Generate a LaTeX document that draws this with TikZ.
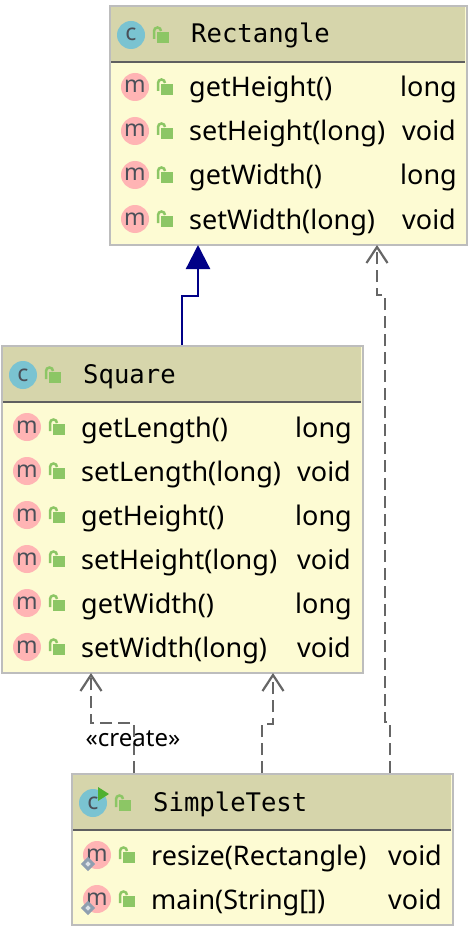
\documentclass[tikz,border=0pt]{standalone}
\usepackage{fontspec}
\setmainfont{Noto Sans}
\newfontfamily\hdrfont{DejaVu Sans Mono}
\usetikzlibrary{arrows.meta}
\definecolor{hdr}{HTML}{D6D5AB}
\definecolor{bodyc}{HTML}{FDFBD3}
\definecolor{edge}{HTML}{BDBDBD}
\definecolor{sepc}{HTML}{5F5F5F}
\definecolor{cic}{HTML}{7AC3D1}
\definecolor{mic}{HTML}{FFB4B4}
\definecolor{icont}{HTML}{4A4F58}
\definecolor{lockc}{HTML}{8CC665}
\definecolor{navyc}{HTML}{000087}
\definecolor{dashc}{HTML}{666666}
\definecolor{runc}{HTML}{4FB030}
\definecolor{diac}{HTML}{8F9FB0}
\tikzset{
  x=1pt,y=-1pt,
  umlbox/.style={draw=edge,line width=2pt,fill=bodyc,inner sep=0,anchor=north west},
  titletext/.style={anchor=base west,inner sep=0,font=\hdrfont\fontsize{25.6}{27}\selectfont},
  membertext/.style={anchor=base west,inner sep=0,font=\fontsize{27}{29}\selectfont},
  iconletter/.style={anchor=base,inner sep=0,text=icont,font=\fontsize{23}{24}\selectfont},
  gen/.style={navyc,line width=2.2pt,-{Triangle[length=24pt,width=24pt,fill=navyc]}},
  dep/.style={dashc,line width=2.2pt,dash pattern=on 12pt off 6pt,-{Straight Barb[length=16pt,width=21pt,line width=2.2pt]}},
}
\newcommand{\lockicon}[2]{%
  \draw[lockc,line width=2.5pt] (#1-9,#2+4) -- (#1-9,#2-4) arc[start angle=180,end angle=0,x radius=3.5,y radius=-3.5];
  \fill[lockc] (#1-6,#2-3) rectangle (#1+6,#2+8);
}
\newcommand{\classhead}[4]{% x, y, header bottom, width
  \fill[hdr] (#1+1,#2+1) rectangle (#1+#4-1,#3);
  \draw[sepc,line width=2pt] (#1+1,#3) -- (#1+#4-1,#3);
}
\newcommand{\classicon}[2]{%
  \fill[cic] (#1,#2) circle[radius=14];
  \node[iconletter] at (#1,#2+6) {c};
  \lockicon{#1+32}{#2}
}
\newcommand{\membericon}[2]{%
  \fill[mic] (#1,#2) circle[radius=14];
  \node[iconletter] at (#1,#2+6) {m};
  \lockicon{#1+32}{#2}
}
\begin{document}
\begin{tikzpicture}
\useasboundingbox (0,0) rectangle (472,928);
\fill[white] (0,0) rectangle (472,928);

% boxes
\node[umlbox,minimum width=357pt,minimum height=239pt] (rect) at (109,5) {};
\node[umlbox,minimum width=361pt,minimum height=327pt] (sq) at (1,345) {};
\node[umlbox,minimum width=381pt,minimum height=151pt] (st) at (71,773) {};

% Rectangle
\classhead{110}{6}{62}{356}
\classicon{131}{35}
\node[titletext] (t1) at (191,43) {Rectangle};
\foreach \y/\a/\b/\bx [count=\i] in {88/getHeight()/long/400,132/setHeight(long)/void/402,176/getWidth()/long/400,220/setWidth(long)/void/402}{
  \membericon{135}{\y-1}
  \node[membertext] (r\i) at (189,\y+9) {\a};
  \node[membertext] (rt\i) at (\bx,\y+9) {\b};
}

% Square
\classhead{2}{346}{402}{360}
\classicon{23}{375}
\node[titletext] (t2) at (83,383) {Square};
\foreach \y/\a/\b/\bx [count=\i] in {428/getLength()/long/295,472/setLength(long)/void/297,516/getHeight()/long/295,560/setHeight(long)/void/297,604/getWidth()/long/295,648/setWidth(long)/void/297}{
  \membericon{27}{\y-1}
  \node[membertext] (s\i) at (81,\y+9) {\a};
  \node[membertext] (st\i) at (\bx,\y+9) {\b};
}

% SimpleTest
\classhead{72}{774}{830}{380}
\classicon{93}{803}
\fill[runc] (98,787) -- (109,794) -- (98,801) -- cycle;
\node[titletext] (t3) at (153,811) {SimpleTest};
\foreach \y/\a/\b/\bx [count=\i] in {856/resize(Rectangle)/void/388,900/main(String[])/void/388}{
  \membericon{97}{\y-1}
  \draw[fill=white!70!diac,draw=diac,line width=3pt] (88,\y+3) -- (93,\y+8) -- (88,\y+13) -- (83,\y+8) -- cycle;
  \node[membertext] (m\i) at (151,\y+9) {\a};
  \node[membertext] (mt\i) at (\bx,\y+9) {\b};
}

% connectors
\coordinate (g0) at ([xshift=181pt]sq.north west);
\coordinate (g1) at ([xshift=89pt,yshift=1pt]rect.south west);
\draw[gen] (g0) -- ++(0,-49) -| (g1);

\coordinate (d0) at ([xshift=319pt]st.north west);
\coordinate (d1) at ([xshift=268pt,yshift=1pt]rect.south west);
\draw[dep] (d0) -- ++(0,-51) -- ++(-5,0) -- ++(0,-427) -| (d1);

\coordinate (e0) at ([xshift=191pt]st.north west);
\coordinate (e1) at ([xshift=272pt,yshift=1pt]sq.south west);
\draw[dep] (e0) -- ++(0,-49) -| (e1);

\coordinate (f0) at ([xshift=63pt]st.north west);
\coordinate (f1) at ([xshift=90pt,yshift=1pt]sq.south west);
\draw[dep] (f0) -- ++(0,-50) -| (f1);
\node[inner sep=0,font=\fontsize{24}{26}\selectfont] (lbl) at (133,739) {«create»};
\end{tikzpicture}
\end{document}
